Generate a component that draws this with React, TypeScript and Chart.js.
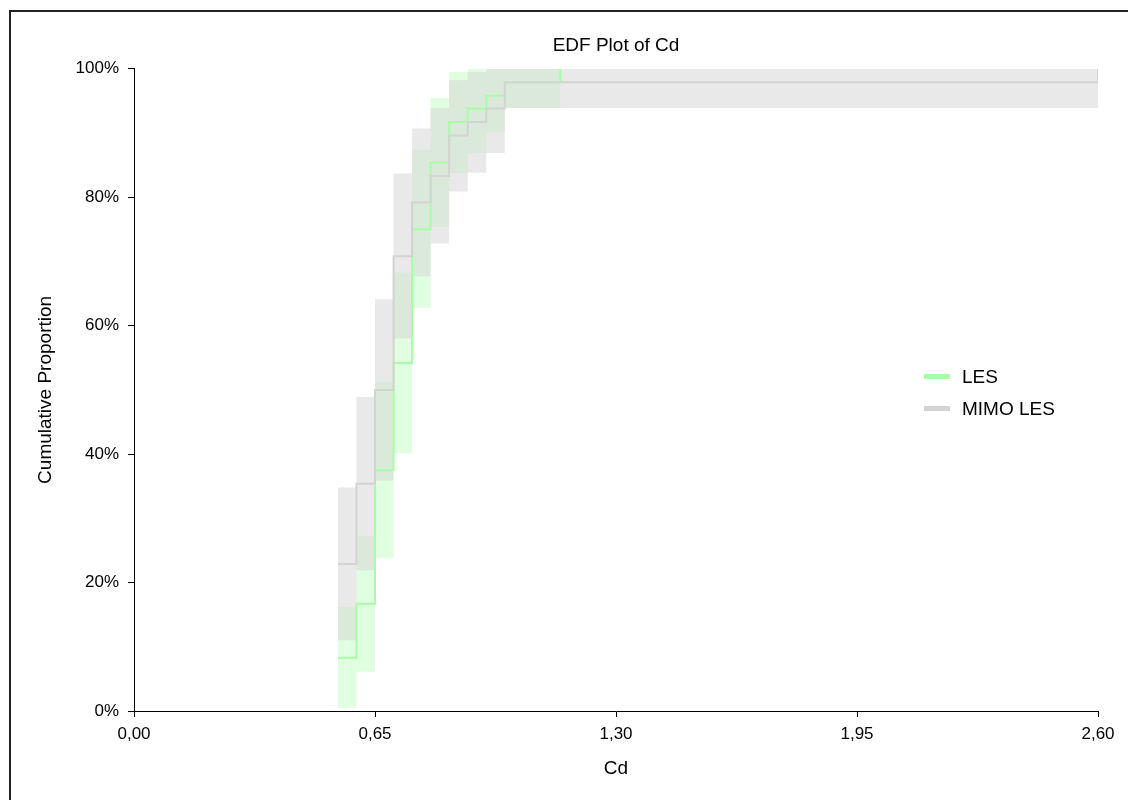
import React, { useEffect, useRef } from "react";
import { Chart, registerables } from "chart.js";

Chart.register(...registerables);

// LES (green)
const lesX = [0.55, 0.6, 0.65, 0.7, 0.75, 0.8, 0.85, 0.9, 0.95, 1.0, 1.15];
const lesEdf = [0.083, 0.167, 0.375, 0.542, 0.75, 0.854, 0.917, 0.938, 0.958, 0.979, 1.0];
const lesLower = [0.005, 0.061, 0.238, 0.401, 0.628, 0.754, 0.838, 0.869, 0.902, 0.939];
const lesUpper = [0.162, 0.272, 0.512, 0.683, 0.873, 0.954, 0.995, 1.0, 1.0, 1.0];

// MIMO LES (grey)
const mimoX = [0.55, 0.6, 0.65, 0.7, 0.75, 0.8, 0.85, 0.9, 0.95, 1.0, 2.6];
const mimoEdf = [0.229, 0.354, 0.5, 0.708, 0.792, 0.833, 0.896, 0.917, 0.938, 0.979, 1.0];
const mimoLower = [0.11, 0.219, 0.359, 0.58, 0.677, 0.728, 0.809, 0.838, 0.869, 0.939];
const mimoUpper = [0.348, 0.489, 0.641, 0.837, 0.907, 0.939, 0.982, 0.995, 1.0, 1.0];

const xTicks = [0, 0.65, 1.3, 1.95, 2.6];
const yTicks = [0, 0.2, 0.4, 0.6, 0.8, 1.0];

const seriesNames = ["LES", "MIMO LES"];
const lesLineColor = "#a6ffa6";
const mimoLineColor = "#d3d3d3";
const lesBandColor = "rgba(152,251,152,0.3)";
const mimoBandColor = "rgba(211,211,211,0.5)";

const FONT = "'Liberation Sans', Arial, Helvetica, sans-serif";

function pts(xs: number[], ys: number[]) {
  return xs.map((x, i) => ({ x, y: ys[Math.min(i, ys.length - 1)] }));
}

export default function App() {
  const ref = useRef<HTMLCanvasElement | null>(null);

  useEffect(() => {
    if (!ref.current) return;
    const common = {
      stepped: "before" as const,
      pointRadius: 0,
      pointHoverRadius: 0,
      pointHitRadius: 0,
    };
    const chart = new Chart(ref.current, {
      type: "line",
      data: {
        datasets: [
          { ...common, label: seriesNames[1], data: pts(mimoX, mimoEdf), borderColor: mimoLineColor, borderWidth: 2, fill: false },
          { ...common, label: "mimoUpper", data: pts(mimoX, mimoUpper), borderColor: "transparent", borderWidth: 0, fill: false },
          { ...common, label: "mimoLower", data: pts(mimoX, mimoLower), borderColor: "transparent", borderWidth: 0, fill: "-1", backgroundColor: mimoBandColor },
          { ...common, label: seriesNames[0], data: pts(lesX, lesEdf), borderColor: lesLineColor, borderWidth: 2, fill: false },
          { ...common, label: "lesUpper", data: pts(lesX, lesUpper), borderColor: "transparent", borderWidth: 0, fill: false },
          { ...common, label: "lesLower", data: pts(lesX, lesLower), borderColor: "transparent", borderWidth: 0, fill: "-1", backgroundColor: lesBandColor },
        ],
      },
      options: {
        responsive: false,
        devicePixelRatio: 1,
        animation: false,
        events: [],
        layout: { padding: { left: 0, right: 30, top: 0, bottom: 0 } },
        plugins: {
          legend: { display: false },
          tooltip: { enabled: false },
          filler: { drawTime: "beforeDatasetsDraw" },
          title: {
            display: true,
            text: "EDF Plot of Cd",
            color: "#000",
            fullSize: false,
            font: { family: FONT, size: 19, weight: "normal" },
            padding: { top: 34, bottom: 12 },
          },
        },
        scales: {
          x: {
            type: "linear",
            min: 0,
            max: 2.6,
            afterBuildTicks: (s: any) => {
              s.ticks = xTicks.map((v) => ({ value: v }));
            },
            afterFit: (s: any) => {
              s.height = 89;
            },
            ticks: {
              color: "#000",
              font: { family: FONT, size: 17 },
              padding: 7,
              maxRotation: 0,
              autoSkip: false,
              callback: (v: any) => Number(v).toFixed(2).replace(".", ","),
            },
            grid: { display: true, drawOnChartArea: false, drawTicks: true, tickLength: 6, color: "#000", lineWidth: 1 },
            border: { display: true, color: "#000", width: 1 },
            title: {
              display: true,
              text: "Cd",
              color: "#000",
              font: { family: FONT, size: 19 },
              padding: { top: 0, bottom: 20 },
            },
          },
          y: {
            type: "linear",
            min: 0,
            max: 1,
            afterBuildTicks: (s: any) => {
              s.ticks = yTicks.map((v) => ({ value: v }));
            },
            afterFit: (s: any) => {
              s.width = 134;
            },
            ticks: {
              color: "#000",
              font: { family: FONT, size: 17 },
              padding: 9,
              autoSkip: false,
              callback: (v: any) => `${Math.round(Number(v) * 100)}%`,
            },
            grid: { display: true, drawOnChartArea: false, drawTicks: true, tickLength: 6, color: "#000", lineWidth: 1 },
            border: { display: true, color: "#000", width: 1 },
            title: {
              display: true,
              text: "Cumulative Proportion",
              color: "#000",
              font: { family: FONT, size: 19 },
              padding: { top: 34, bottom: 0 },
            },
          },
        },
      } as any,
    });
    return () => chart.destroy();
  }, []);

  const legendItems = [
    { name: seriesNames[0], color: lesLineColor, y: 377 },
    { name: seriesNames[1], color: mimoLineColor, y: 409 },
  ];

  return (
    <div style={{ position: "fixed", left: 0, top: 0, width: 1128, height: 800, overflow: "hidden", background: "#fff" }}>
      <div style={{ position: "absolute", left: 9, top: 10, width: 1400, height: 1000, border: "2px solid #222", boxSizing: "border-box" }} />
      <canvas ref={ref} width={1128} height={800} style={{ position: "absolute", left: 0, top: 0, width: 1128, height: 800 }} />
      {legendItems.map((it) => (
        <div key={it.name}>
          <div style={{ position: "absolute", left: 924, top: it.y - 3, width: 26, height: 5, background: it.color }} />
          <div style={{ position: "absolute", left: 962, top: it.y - 11, height: 22, lineHeight: "22px", fontFamily: FONT, fontSize: 19, color: "#000", whiteSpace: "nowrap" }}>
            {it.name}
          </div>
        </div>
      ))}
    </div>
  );
}
